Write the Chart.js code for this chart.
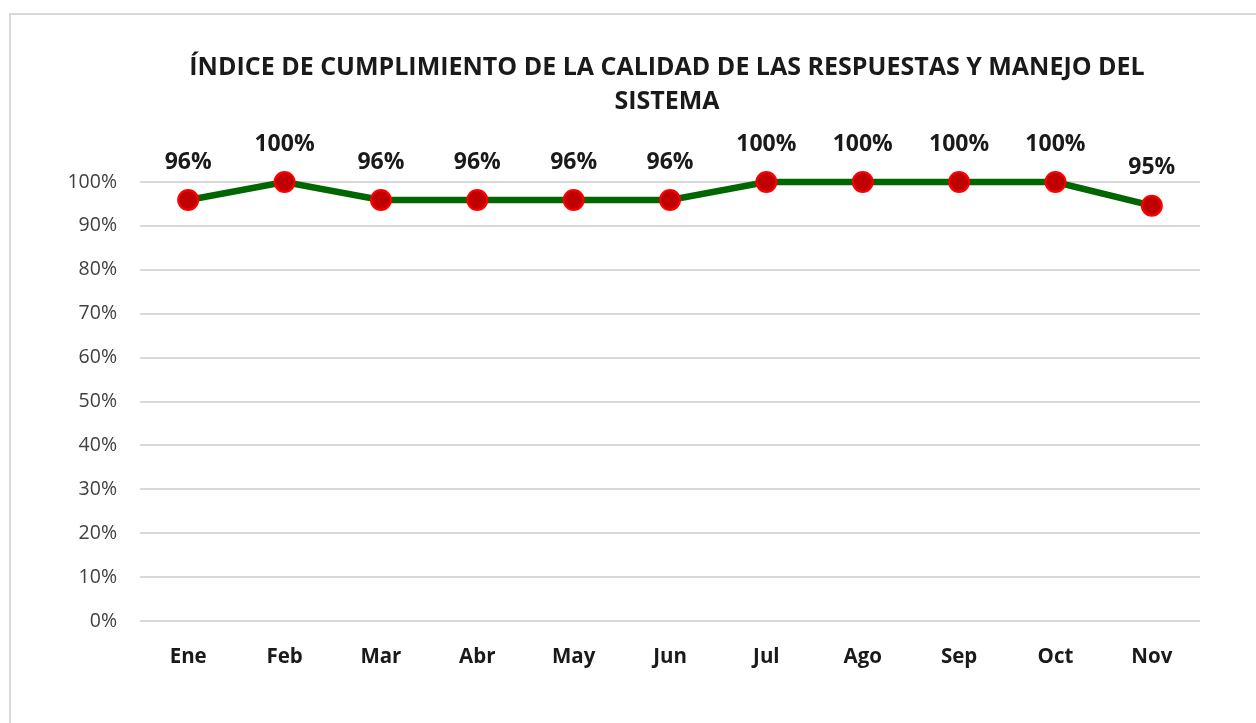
<!DOCTYPE html>
<html><head><meta charset="utf-8">
<script src="https://cdn.jsdelivr.net/npm/chart.js@4.4.1/dist/chart.umd.min.js"></script>
<style>
html,body{margin:0;padding:0;background:#fff;}
#wrap{position:absolute;left:0;top:0;width:1256px;height:723px;}
#frame{position:absolute;left:9px;top:13px;width:1300px;height:800px;border:2px solid #d9d9d9;box-sizing:border-box;}
canvas{position:absolute;left:0;top:0;}
</style></head>
<body>
<div id="wrap"><div id="frame"></div><canvas id="c" width="1256" height="723"></canvas></div>
<script>
const months = ["Ene","Feb","Mar","Abr","May","Jun","Jul","Ago","Sep","Oct","Nov"];
const indice = [0.959,1.0,0.959,0.959,0.959,0.959,1.0,1.0,1.0,1.0,0.946];
const titleLines = ["ÍNDICE DE CUMPLIMIENTO DE LA CALIDAD DE LAS RESPUESTAS Y MANEJO DEL","SISTEMA"];
const FONT = "'Open Sans', sans-serif";

const labelPlugin = {
  id:'pointLabels',
  afterDatasetsDraw(chart){
    const ctx = chart.ctx;
    const meta = chart.getDatasetMeta(0);
    ctx.save();
    ctx.font = "bold 23px " + FONT;
    ctx.fillStyle = "#1a1a1a";
    ctx.textAlign = "center";
    ctx.textBaseline = "middle";
    meta.data.forEach((pt,i)=>{
      ctx.fillText(Math.round(indice[i]*100)+"%", pt.x, pt.y-38);
    });
    ctx.restore();
  }
};
const titlePlugin = {
  id:'customTitle',
  afterDraw(chart){
    const ctx = chart.ctx;
    ctx.save();
    ctx.font = "bold 25px " + FONT;
    ctx.fillStyle = "#1a1a1a";
    ctx.textAlign = "center";
    ctx.textBaseline = "middle";
    ctx.fillText(titleLines[0], 667, 68);
    ctx.fillText(titleLines[1], 667, 102);
    ctx.restore();
  }
};

new Chart(document.getElementById('c'),{
  type:'line',
  data:{labels:months,datasets:[{
    data:indice,
    borderColor:'#006600',
    borderWidth:6.5,
    pointRadius:10,
    pointHoverRadius:10,
    pointBackgroundColor:'#C00000',
    pointBorderColor:'#FF0000',
    pointBorderWidth:2,
    tension:0,
    clip:false
  }]},
  options:{
    responsive:false,
    animation:false,
    events:[],
    layout:{padding:{left:0,right:56,top:182,bottom:0}},
    plugins:{
      legend:{display:false},
      tooltip:{enabled:false},
      title:{display:false}
    },
    scales:{
      x:{
        offset:true,
        grid:{display:false,drawTicks:false},
        border:{display:false},
        ticks:{color:'#1a1a1a',font:{family:FONT,size:20.5,weight:'bold'},padding:24},
        afterFit(s){s.height=102;}
      },
      y:{
        min:0,max:1,
        grid:{color:'#d9d9d9',lineWidth:2,drawTicks:false},
        border:{display:false},
        ticks:{stepSize:0.1,color:'#404040',font:{family:FONT,size:19.5},padding:23,
          callback:v=>Math.round(v*100)+"%"},
        afterFit(s){s.width=140;}
      }
    }
  },
  plugins:[labelPlugin,titlePlugin]
});
</script>
</body></html>
